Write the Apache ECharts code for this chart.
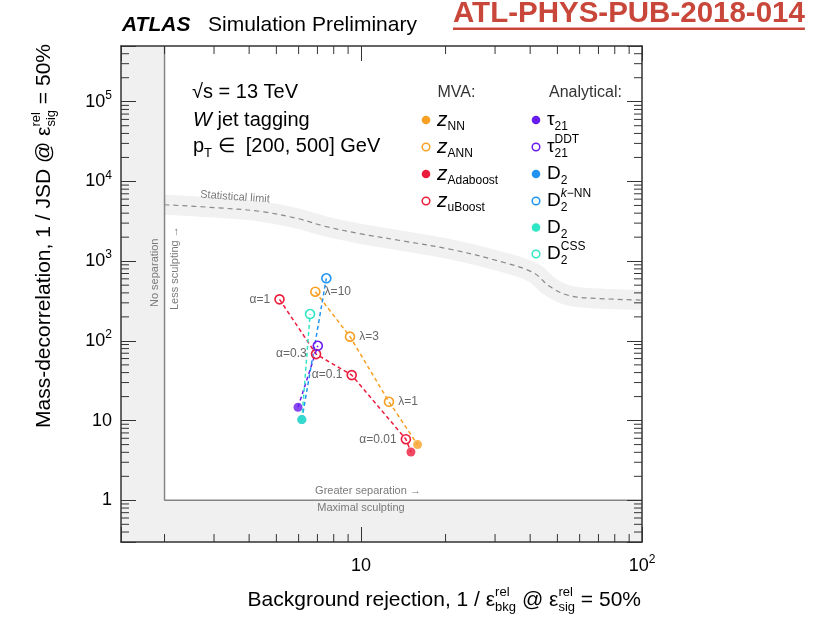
<!DOCTYPE html>
<html>
<head>
<meta charset="utf-8">
<script src="https://cdn.jsdelivr.net/npm/echarts@6/dist/echarts.min.js"></script>
<style>
html, body { margin: 0; padding: 0; background: #fff; }
#chart { width: 828px; height: 618px; }
</style>
</head>
<body>
<div id="chart"></div>
<script>
// axis ranges
var X_MIN = 1.4, X_MAX = 100, Y_MIN = 0.3, Y_MAX = 5e5;
var NO_SEP_X = 2, MAX_SCULPT_Y = 1;

// minor tick values (log axes)
var minorX = [2, 3, 4, 5, 6, 7, 8, 9, 20, 30, 40, 50, 60, 70, 80, 90];
var minorY = [0.4, 0.5, 0.6, 0.7, 0.8, 0.9,
  2, 3, 4, 5, 6, 7, 8, 9,
  20, 30, 40, 50, 60, 70, 80, 90,
  200, 300, 400, 500, 600, 700, 800, 900,
  2000, 3000, 4000, 5000, 6000, 7000, 8000, 9000,
  20000, 30000, 40000, 50000, 60000, 70000, 80000, 90000,
  200000, 300000, 400000];

// statistical limit curve
var statX = [2, 3, 4.4, 6, 7.4, 10, 14, 21, 31, 41, 47, 55, 70, 100];
var statY = [5100, 4700, 4200, 3400, 2750, 2200, 1800, 1400, 1000, 720, 480, 370, 340, 325];

// MVA
var nnPoint = [15.9, 5.0];
var annX = [6.88, 9.14, 12.58];
var annY = [414, 113, 17.2];
var lambdaLabels = ['λ=10', 'λ=3', 'λ=1'];
var adaPoint = [15.06, 4.04];
var uboostX = [5.13, 6.92, 9.27, 14.45];
var uboostY = [332, 68.3, 37.2, 5.84];
var alphaLabels = ['α=1', 'α=0.3', 'α=0.1', 'α=0.01'];

// analytical
var tau21 = [5.97, 14.7];
var tau21DDT = [7.02, 86.8];
var d2 = [6.16, 10.3];
var d2knn = [7.53, 610];
var d2css = [6.59, 217];

var ORANGE = '#f7a024', RED = '#ec1c3c', PURPLE = '#6a1cf0', BLUE = '#2293f0', CYAN = '#2fe6c4';
var FONT = '"Liberation Sans", Arial, sans-serif';
var TOP_Z = 100;

var myChart = echarts.init(document.getElementById('chart'));

// text measuring for the hand-built math labels
var mctx = document.createElement('canvas').getContext('2d');
function textW(s, size, st) {
  mctx.font = (st || 'normal') + ' ' + size + 'px ' + FONT;
  return mctx.measureText(s).width;
}
function txt(x, y, s, size, st, color) {
  return {type: 'text', x: x, y: y, silent: true, z: TOP_Z,
    style: {text: s, font: (st || 'normal') + ' ' + size + 'px ' + FONT, fill: color || '#000',
      verticalAlign: 'middle', align: 'left'}};
}
function pieces(list, x0, y, size, color, kids) {
  var x = x0;
  [].concat(list).forEach(function (p) {
    if (typeof p === 'string') p = {t: p};
    if (p.t !== undefined) {
      var st = p.st || 'normal', sz = p.size || size;
      kids.push(txt(x, y, p.t, sz, st, color));
      x += textW(p.t, sz, st);
    } else {
      var sm = Math.round(size * 0.64), w1 = 0, w2 = 0;
      if (p.sup) w1 = pieces(p.sup, x, y - size * 0.38, sm, color, kids);
      if (p.sub) w2 = pieces(p.sub, x, y + size * 0.36, sm, color, kids);
      x += Math.max(w1, w2);
    }
  });
  return x - x0;
}
function mathText(x, y, parts, size, color, opt) {
  opt = opt || {};
  var kids = [];
  var w = pieces(parts, 0, 0, size, color, kids);
  var g = {type: 'group', x: x, y: y, z: TOP_Z, children: kids, silent: true};
  if (opt.alignRight) g.x = x - w;
  if (opt.vertical) { g.rotation = Math.PI / 2; g.y = y + w; }
  return g;
}
function note(x, y, s, rot, align) {
  return {type: 'text', silent: true, x: x, y: y, rotation: rot || 0, z: TOP_Z,
    style: {text: s, font: 'normal 11px ' + FONT, fill: '#7a7a7a', align: align || 'center', verticalAlign: 'middle'}};
}

function powLabel(v) {
  var l = Math.log10(v), e = Math.round(l);
  if (Math.abs(l - e) > 1e-6) return '';
  if (e === 0) return '{b|1}';
  if (e === 1) return '{b|10}';
  return '{b|10}{s|' + e + '}';
}
var labelRich = {
  b: {fontSize: 18, fontFamily: FONT, color: '#000', lineHeight: 24},
  s: {fontSize: 12, fontFamily: FONT, color: '#000', verticalAlign: 'top', lineHeight: 14}
};

function axisCommon(pos, showLabel) {
  var vert = pos === 'left' || pos === 'right';
  return {
    type: 'log', min: vert ? Y_MIN : X_MIN, max: vert ? Y_MAX : X_MAX,
    position: pos, z: 10,
    axisLine: {show: true, onZero: false, lineStyle: {color: '#333', width: 1.5}},
    axisTick: {show: true, inside: true, length: 15, lineStyle: {color: '#333', width: 1}},
    splitLine: {show: false},
    axisLabel: {show: showLabel, formatter: powLabel, rich: labelRich,
      margin: pos === 'bottom' ? 12 : 9}
  };
}

function minorTicks(vals, isX) {
  return {
    type: 'custom', silent: true, z: 10,
    data: vals.map(function (v) { return isX ? [v, MAX_SCULPT_Y] : [NO_SEP_X, v]; }),
    renderItem: function (params, api) {
      var cs = params.coordSys, L = 8, st = {stroke: '#333', lineWidth: 1};
      if (isX) {
        var px = api.coord([api.value(0), MAX_SCULPT_Y])[0], b = cs.y + cs.height;
        return {type: 'group', children: [
          {type: 'line', shape: {x1: px, y1: b, x2: px, y2: b - L}, style: st},
          {type: 'line', shape: {x1: px, y1: cs.y, x2: px, y2: cs.y + L}, style: st}]};
      }
      var py = api.coord([NO_SEP_X, api.value(1)])[1], r = cs.x + cs.width;
      return {type: 'group', children: [
        {type: 'line', shape: {x1: cs.x, y1: py, x2: cs.x + L, y2: py}, style: st},
        {type: 'line', shape: {x1: r, y1: py, x2: r - L, y2: py}, style: st}]};
    }
  };
}

function openItem(p, label, pos) {
  var it = {value: p};
  if (label) it.label = {show: true, formatter: label, position: pos};
  return it;
}
function hiddenItem(p) { return {value: p, symbol: 'none'}; }
function pathSeries(name, color, data) {
  return {
    name: name, type: 'line', data: data, symbol: 'circle', symbolSize: 9, z: 3,
    showAllSymbol: true,
    lineStyle: {color: color, width: 1.5, type: [4, 3]},
    itemStyle: {color: 'rgba(255,255,255,0)', borderColor: color, borderWidth: 1.6},
    label: {show: false, color: '#666', fontSize: 12, fontFamily: FONT, distance: 4},
    emphasis: {disabled: true}
  };
}
function dotSeries(name, color, p) {
  return {name: name, type: 'scatter', data: [p], symbolSize: 9, z: 4,
    itemStyle: {color: color}, emphasis: {disabled: true}};
}

var statData = statX.map(function (x, i) { return [x, statY[i]]; });

var series = [
  {
    type: 'line', data: [[NO_SEP_X, Y_MAX], [NO_SEP_X, MAX_SCULPT_Y], [X_MAX, MAX_SCULPT_Y]],
    symbol: 'none', silent: true, z: 2,
    lineStyle: {color: '#858585', width: 1.5},
    markArea: {silent: true, itemStyle: {color: '#f0f0f0'},
      data: [[{coord: [X_MIN, Y_MIN]}, {coord: [NO_SEP_X, Y_MAX]}],
             [{coord: [X_MIN, Y_MIN]}, {coord: [X_MAX, MAX_SCULPT_Y]}]]}
  },
  {type: 'line', data: statData, smooth: 0.35, symbol: 'none', silent: true, z: 1,
    lineStyle: {color: '#f1f1f1', width: 20, cap: 'butt'}},
  {type: 'line', data: statData, smooth: 0.35, symbol: 'none', silent: true, z: 2,
    lineStyle: {color: '#8a8a8a', width: 1.2, type: [5, 4]}},
  pathSeries('z_ANN', ORANGE, annX.map(function (x, i) {
    return openItem([x, annY[i]], lambdaLabels[i], 'right');
  }).concat([hiddenItem(nnPoint)])),
  pathSeries('z_uBoost', RED, uboostX.map(function (x, i) {
    return openItem([x, uboostY[i]], alphaLabels[i], 'left');
  }).concat([hiddenItem(adaPoint)])),
  pathSeries('tau21DDT', PURPLE, [hiddenItem(tau21), openItem(tau21DDT)]),
  pathSeries('D2kNN', BLUE, [hiddenItem(d2), openItem(d2knn)]),
  pathSeries('D2CSS', CYAN, [hiddenItem(d2), openItem(d2css)]),
  dotSeries('z_NN', ORANGE, nnPoint),
  dotSeries('z_Adaboost', RED, adaPoint),
  dotSeries('tau21', PURPLE, tau21),
  dotSeries('D2 blue', BLUE, d2),
  dotSeries('D2 cyan', CYAN, d2),
  minorTicks(minorX, true),
  minorTicks(minorY, false)
];

// legend (hand drawn, two columns)
var mvaRows = [120, 147, 174, 201];
var anaRows = [120, 147, 174, 201, 227.5, 254];
var mvaItems = [
  {c: ORANGE, open: false, t: [{t: 'z', st: 'italic', size: 21}, {sub: 'NN'}]},
  {c: ORANGE, open: true, t: [{t: 'z', st: 'italic', size: 21}, {sub: 'ANN'}]},
  {c: RED, open: false, t: [{t: 'z', st: 'italic', size: 21}, {sub: 'Adaboost'}]},
  {c: RED, open: true, t: [{t: 'z', st: 'italic', size: 21}, {sub: 'uBoost'}]}
];
var anaItems = [
  {c: PURPLE, open: false, t: ['τ', {sub: '21'}]},
  {c: PURPLE, open: true, t: ['τ', {sup: 'DDT', sub: '21'}]},
  {c: BLUE, open: false, t: ['D', {sub: '2'}]},
  {c: BLUE, open: true, t: ['D', {sup: [{t: 'k', st: 'italic'}, '−NN'], sub: '2'}]},
  {c: CYAN, open: false, t: ['D', {sub: '2'}]},
  {c: CYAN, open: true, t: ['D', {sup: 'CSS', sub: '2'}]}
];
var graphics = [];
function legendCol(items, rows, mx, tx) {
  items.forEach(function (it, i) {
    graphics.push({type: 'circle', silent: true, z: TOP_Z, shape: {cx: mx, cy: rows[i], r: it.open ? 3.8 : 4.3},
      style: it.open ? {fill: 'none', stroke: it.c, lineWidth: 1.5} : {fill: it.c}});
    graphics.push(mathText(tx, rows[i], it.t, 19, '#000'));
  });
}
legendCol(mvaItems, mvaRows, 426, 437);
legendCol(anaItems, anaRows, 536, 547);
graphics.push(txt(437.5, 92.5, 'MVA:', 16, 'normal', '#333'));
graphics.push(txt(549, 92.5, 'Analytical:', 16, 'normal', '#333'));

// header
graphics.push(txt(122, 25, 'ATLAS', 21, 'italic bold', '#000'));
graphics.push(txt(208, 25, 'Simulation Preliminary', 21, 'normal', '#000'));
var refW = textW('ATL-PHYS-PUB-2018-014', 29.5, 'bold');
graphics.push(txt(453, 14, 'ATL-PHYS-PUB-2018-014', 29.5, 'bold', '#c9473a'));
graphics.push({type: 'rect', silent: true, z: TOP_Z, shape: {x: 453, y: 27.5, width: refW, height: 2.5}, style: {fill: '#c9473a'}});

// info block
graphics.push(mathText(192, 92, ['√s = 13 TeV'], 20, '#000'));
graphics.push(mathText(193, 120, [{t: 'W', st: 'italic'}, ' jet tagging'], 20, '#000'));
graphics.push(mathText(193, 146, ['p', {sub: 'T'}, ' ∈  [200, 500] GeV'], 20, '#000'));

// axis titles
graphics.push(mathText(641, 600, ['Background rejection, 1 / ε', {sup: 'rel', sub: 'bkg'}, ' @ ε',
  {sup: 'rel', sub: 'sig'}, ' = 50%'], 21, '#000', {alignRight: true}));
graphics.push(mathText(44, 44, ['Mass-decorrelation, 1 / JSD @ ε', {sup: 'rel', sub: 'sig'}, ' = 50%'],
  21, '#000', {vertical: true}));

// region annotations
graphics.push(note(235, 197, 'Statistical limit', -0.07));
graphics.push(note(155, 307, 'No separation', Math.PI / 2, 'left'));
graphics.push(note(175, 310, 'Less sculpting →', Math.PI / 2, 'left'));
graphics.push(note(368, 491, 'Greater separation →'));
graphics.push(note(361, 508, 'Maximal sculpting'));

var option = {
  animation: false,
  backgroundColor: '#fff',
  textStyle: {fontFamily: FONT},
  grid: {left: 121, right: 186, top: 46, bottom: 76},
  xAxis: [axisCommon('bottom', true), axisCommon('top', false)],
  yAxis: [axisCommon('left', true), axisCommon('right', false)],
  series: series,
  graphic: graphics
};
myChart.setOption(option);
</script>
</body>
</html>
